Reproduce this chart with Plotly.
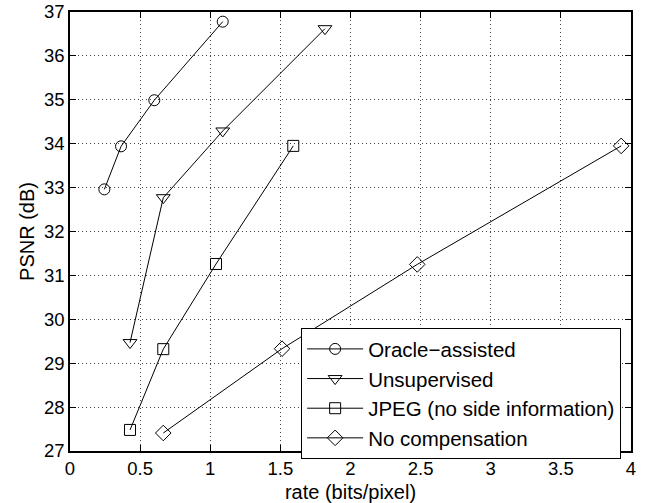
import plotly.graph_objects as go

oracle_x = [0.245, 0.364, 0.601, 1.089]
oracle_y = [32.96, 33.94, 34.99, 36.78]
unsup_x = [0.428, 0.665, 1.089, 1.818]
unsup_y = [29.47, 32.77, 34.29, 36.62]
jpeg_x = [0.428, 0.665, 1.041, 1.592]
jpeg_y = [27.48, 29.32, 31.26, 33.95]
nocomp_x = [0.665, 1.512, 2.476, 3.93]
nocomp_y = [27.41, 29.33, 31.25, 33.95]

names = ["Oracle\u2212assisted", "Unsupervised", "JPEG (no side information)", "No compensation"]
symbols = ["circle-open", "triangle-down-open", "square-open", "diamond-open"]
sizes = [11, 12, 11, 12]
xs = [oracle_x, unsup_x, jpeg_x, nocomp_x]
ys = [oracle_y, unsup_y, jpeg_y, nocomp_y]

fig = go.Figure()
for x, y, n, s, sz in zip(xs, ys, names, symbols, sizes):
    fig.add_trace(go.Scatter(x=x, y=y, name=n, mode="lines+markers",
                             line=dict(color="black", width=1),
                             marker=dict(symbol=s, size=sz, color="black", line=dict(width=1, color="black"))))

axis_common = dict(showline=True, linecolor="black", linewidth=1.5, mirror="ticks",
                   ticks="inside", ticklen=6, tickcolor="black", automargin=False,
                   ticklabeloverflow="allow",
                   showgrid=True, gridcolor="#444", griddash="1px,3px", gridwidth=1,
                   zeroline=False, tickfont=dict(size=18.5, color="black"))

fig.update_layout(
    width=647, height=503,
    margin=dict(l=70, r=16, t=12, b=52),
    paper_bgcolor="white", plot_bgcolor="white",
    font=dict(family="Liberation Sans, Arial, sans-serif", color="black"),
    xaxis=dict(range=[0, 4], dtick=0.5, title=dict(text="rate (bits/pixel)", font=dict(size=20)), **axis_common),
    yaxis=dict(range=[27, 37], dtick=1,
               title=dict(text="PSNR (dB)", font=dict(size=20), standoff=4), **axis_common),
    legend=dict(x=0.412, y=0.28, xanchor="left", yanchor="top", bgcolor="white",
                bordercolor="black", borderwidth=1, font=dict(size=20.5),
                tracegroupgap=0, itemwidth=56),
    showlegend=True,
)
fig.write_html("out.html", config={"displayModeBar": False},
               post_script="document.body.style.margin='0';")
